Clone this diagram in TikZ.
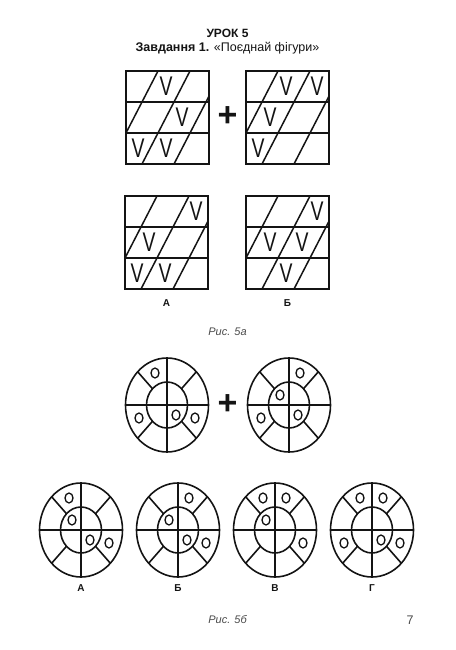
\documentclass[tikz,border=0pt]{standalone}
\usepackage{fontspec}
\setmainfont{Liberation Sans}
\usepackage{xcolor}
\usepackage{tikz}
\usetikzlibrary{calc}
\definecolor{ink}{HTML}{141414}
\definecolor{muted}{HTML}{4A4A4A}
\tikzset{
  frame/.style={draw=ink,line width=1.9pt},
  slash/.style={draw=ink,line width=1.5pt},
  ring/.style={draw=ink,line width=1.6pt},
  dot/.style={draw=ink,line width=1.3pt},
  vmark/.style={inner sep=0pt,text=ink,font=\fontsize{27}{27}\selectfont},
  plus/.style={inner sep=0pt,text=ink,font=\fontsize{34}{34}\selectfont\bfseries},
  letter/.style={inner sep=0pt,text=ink,font=\fontsize{10}{12}\selectfont\bfseries},
  caption/.style={inner sep=0pt,text=muted,font=\fontsize{11}{13}\selectfont\itshape},
  heading/.style={inner sep=0pt,text=ink,font=\fontsize{12.5}{14}\selectfont}
}
\newcommand{\narrowV}{\scalebox{.72}[1]{V}}
% #1 name, #2 top-left corner, #3 ticks as x/row
\newcommand{\gridpanel}[3]{%
  \begin{scope}[shift={#2}]
    \begin{scope}
      \clip (0,0) rectangle (83,93);
      \foreach \k in {1,2,3} \draw[slash] (32*\k,0) -- ++(-48,93);
    \end{scope}
    \draw[slash] (0,31) -- (83,31) (0,62) -- (83,62);
    \draw[frame] (0,0) rectangle (83,93);
    \foreach \mx/\r in {#3}
      \node[vmark] (#1-\mx-\r) at (\mx,{15.5+31*\r}) {\narrowV};
  \end{scope}}
% #1 centre, #2 small rings as dx/dy
\newcommand{\wheelpanel}[2]{%
  \begin{scope}[shift={#1}]
    \draw[ring] (0,0) ellipse (41.5 and 47);
    \draw[ring] (0,0) ellipse (20.5 and 23);
    \draw[ring] (0,-47) -- (0,47) (-41.5,0) -- (41.5,0);
    \foreach \a in {45,135,225,315}
      \draw[ring] ({20.5*cos(\a)},{23*sin(\a)}) -- ({41.5*cos(\a)},{47*sin(\a)});
    \foreach \dx/\dy in {#2} \draw[dot] (\dx,\dy) ellipse (4 and 5);
  \end{scope}}

\begin{document}
\begin{tikzpicture}[x=1pt,y=-1pt]
  \useasboundingbox (0,0) rectangle (455,650);
  \node[heading,font=\fontsize{12}{14}\selectfont\bfseries] (lesson) at (227.5,33) {УРОК 5};
  \node[heading] (task) at (227.5,48) {\textbf{Завдання 1.} «Поєднай фігури»};

  % Рис. 5а
  \gridpanel{first}{(126,71)}{40/0,56/1,12/2,40/2}
  \gridpanel{second}{(246,71)}{40/0,71/0,24/1,12/2}
  \node[plus] (plusA) at (227.5,117) {+};
  \gridpanel{optA}{(125,196)}{71/0,24/1,12/2,40/2}
  \gridpanel{optB}{(246,196)}{71/0,24/1,56/1,40/2}
  \node[letter] (labA) at (166.5,303) {А};
  \node[letter] (labB) at (287.5,303) {Б};
  \node[caption] (capA) at (227.5,332) {Рис. 5а};

  % Рис. 5б
  \wheelpanel{(167,405)}{-12/-32,-28/13,9/10,28/13}
  \wheelpanel{(289,405)}{11/-32,-9/-10,-28/13,9/10}
  \node[plus] (plusB) at (227.5,405) {+};
  \wheelpanel{(81,530)}{-12/-32,-9/-10,9/10,28/13}
  \wheelpanel{(178,530)}{11/-32,-9/-10,9/10,28/13}
  \wheelpanel{(275,530)}{-12/-32,11/-32,-9/-10,28/13}
  \wheelpanel{(372,530)}{-12/-32,11/-32,-28/13,9/10,28/13}
  \foreach \cx/\lab in {81/А,178/Б,275/В,372/Г}
    \node[letter] (lab\cx) at (\cx,588) {\lab};
  \node[caption] (capB) at (227.5,620) {Рис. 5б};
  \node[heading,text=muted] (page) at (410,620) {7};
\end{tikzpicture}
\end{document}
